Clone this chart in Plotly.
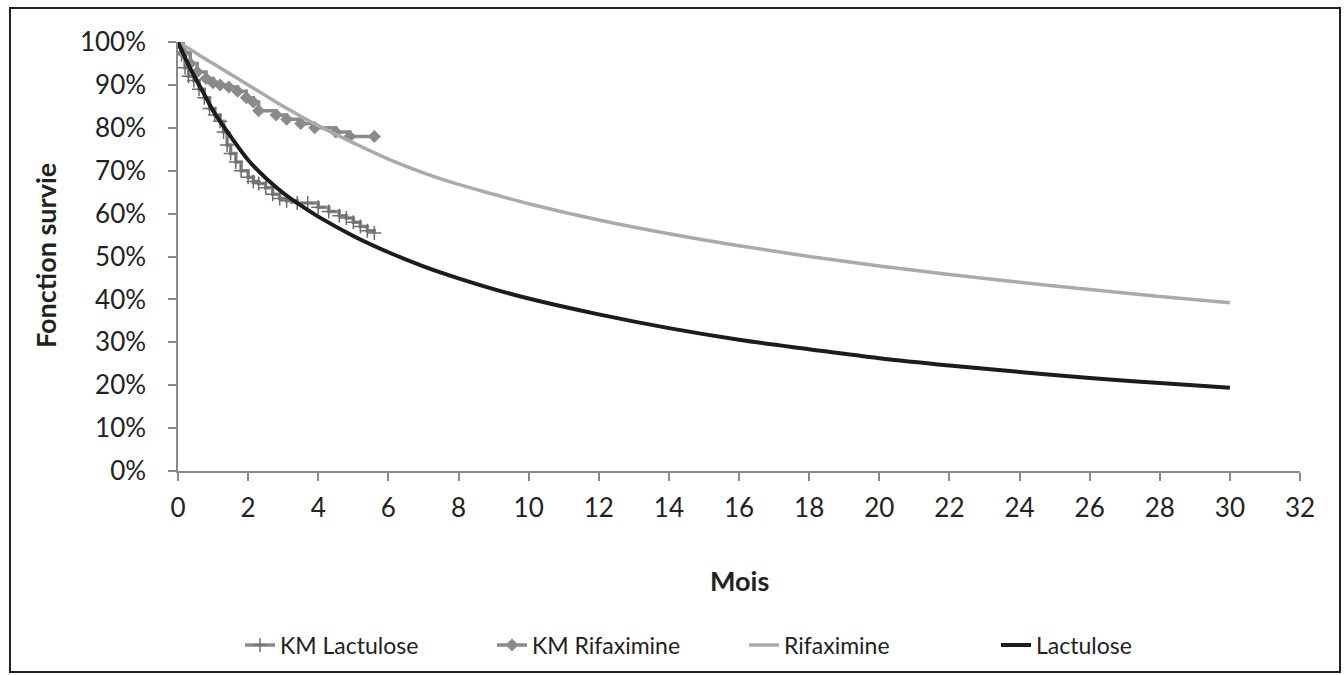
import plotly.graph_objects as go

# ---- data ----
km_lac_t = [0, 0.1, 0.2, 0.3, 0.45, 0.6, 0.75, 0.9, 1.05, 1.2, 1.3, 1.4, 1.5, 1.65, 1.8, 2.0,
            2.15, 2.3, 2.5, 2.7, 2.9, 3.1, 3.4, 3.7, 4.0, 4.3, 4.6, 4.8, 5.0, 5.2, 5.4, 5.6]
km_lac_s = [1.00, 0.97, 0.94, 0.92, 0.91, 0.89, 0.87, 0.845, 0.83, 0.815, 0.79, 0.76, 0.74, 0.72, 0.70, 0.685,
            0.675, 0.67, 0.66, 0.645, 0.635, 0.63, 0.625, 0.625, 0.615, 0.605, 0.595, 0.59, 0.58, 0.57, 0.56, 0.555]

km_rif_t = [0, 0.15, 0.35, 0.55, 0.8, 1.0, 1.2, 1.45, 1.7, 1.95, 2.15, 2.3, 2.8, 3.1, 3.5, 3.9, 4.5, 4.9, 5.6]
km_rif_s = [1.00, 0.975, 0.95, 0.93, 0.915, 0.905, 0.90, 0.895, 0.885, 0.87, 0.86, 0.84, 0.83, 0.82, 0.81, 0.80, 0.79, 0.78, 0.78]

fit_t = [0, 0.25, 0.5, 0.75, 1, 1.5, 2, 2.5, 3, 3.5, 4, 5, 6, 7, 8, 9, 10, 12, 14, 16, 18, 20, 22, 24, 26, 28, 30]
rif_s = [1.00, 0.988, 0.975, 0.962, 0.95, 0.925, 0.90, 0.875, 0.85, 0.827, 0.805, 0.765, 0.727, 0.695, 0.668,
         0.645, 0.623, 0.585, 0.553, 0.525, 0.50, 0.478, 0.458, 0.44, 0.423, 0.407, 0.392]
lac_s = [1.00, 0.955, 0.915, 0.878, 0.84, 0.78, 0.725, 0.683, 0.648, 0.619, 0.593, 0.548, 0.510, 0.477, 0.449,
         0.424, 0.402, 0.365, 0.333, 0.306, 0.284, 0.263, 0.246, 0.231, 0.217, 0.205, 0.194]

x_ticks = list(range(0, 33, 2))
y_ticks = [i / 10 for i in range(11)]
y_tick_labels = [f"{i*10}%" for i in range(11)]

FONT = "Lato"
TXT = "#222222"

fig = go.Figure()
fig.add_trace(go.Scatter(
    x=km_lac_t, y=km_lac_s, name="KM Lactulose", mode="lines+markers",
    line=dict(color="#8a8a8a", width=3.5, shape="hv"),
    marker=dict(symbol="cross-thin", size=10, line=dict(color="#6e6e6e", width=1.5)),
))
fig.add_trace(go.Scatter(
    x=km_rif_t, y=km_rif_s, name="KM Rifaximine", mode="lines+markers",
    line=dict(color="#8a8a8a", width=3.5, shape="hv"),
    marker=dict(symbol="diamond", size=10, color="#8a8a8a"),
))
fig.add_trace(go.Scatter(
    x=fit_t, y=rif_s, name="Rifaximine", mode="lines",
    line=dict(color="#aaaaaa", width=3.5, shape="spline", smoothing=1.0),
))
fig.add_trace(go.Scatter(
    x=fit_t, y=lac_s, name="Lactulose", mode="lines",
    line=dict(color="#1c1c1c", width=4, shape="spline", smoothing=1.0),
))

axis_common = dict(showgrid=False, zeroline=False, showline=True, linecolor="#8a8a8a", linewidth=1.5,
                   ticks="outside", ticklen=8, tickcolor="#8a8a8a", tickwidth=1.5,
                   tickfont=dict(family=FONT, size=26, color=TXT))

fig.update_layout(
    width=1344, height=675,
    margin=dict(l=178, r=44, t=42, b=204, autoexpand=False),
    paper_bgcolor="white", plot_bgcolor="white",
    showlegend=True,
    legend=dict(orientation="h", x=(240 - 178) / 1122, xanchor="left", y=(471 - 645) / 429, yanchor="middle",
                font=dict(family=FONT, size=23, color=TXT), entrywidth=207, entrywidthmode="pixels"),
    xaxis=dict(range=[0, 32], tickvals=x_ticks, ticklabelstandoff=5, **axis_common),
    yaxis=dict(range=[0, 1], tickvals=y_ticks, ticktext=y_tick_labels, ticklabelstandoff=17, **axis_common),
    annotations=[
        dict(text="<b>Mois</b>", xref="paper", yref="paper", x=(739 - 178) / 1122, y=(471 - 580) / 429,
             showarrow=False, font=dict(family=FONT, size=27, color=TXT), xanchor="center", yanchor="middle"),
        dict(text="<b>Fonction survie</b>", xref="paper", yref="paper", x=(45 - 178) / 1122, y=(471 - 256) / 429,
             showarrow=False, textangle=-90, font=dict(family=FONT, size=27, color=TXT),
             xanchor="center", yanchor="middle"),
    ],
    shapes=[dict(type="rect", xref="paper", yref="paper",
                 x0=(10 - 178) / 1122, x1=(1340 - 178) / 1122,
                 y0=(471 - 672) / 429, y1=(471 - 8) / 429,
                 line=dict(color="#222222", width=2))],
)

fig.write_html("out.html", config={"displayModeBar": False},
               post_script="document.body.style.margin='0';")
